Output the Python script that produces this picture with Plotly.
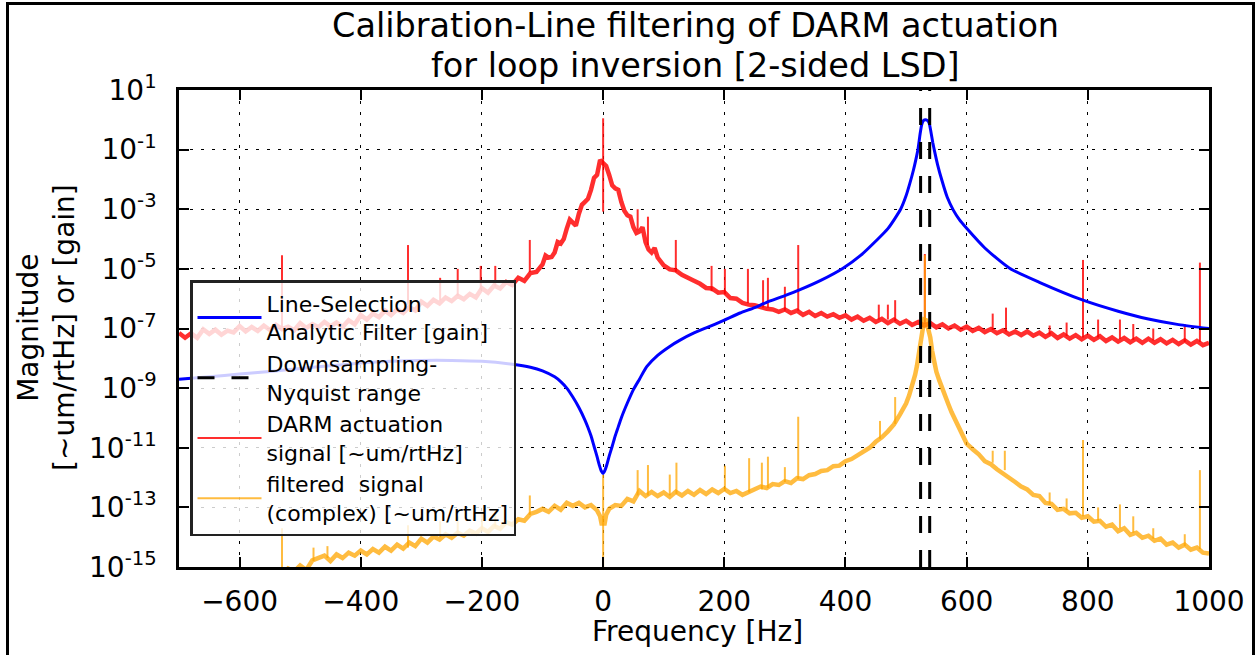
import plotly.graph_objects as go

# ---------------- data ----------------
# frequency grid of the sampled spectra [Hz]
FREQ_GRID = list(range(-700, 1001, 10))

# DARM actuation signal, log10 magnitude on FREQ_GRID
RED_LOG = [
    -7.15, -7.31, -7.16, -7.31, -7.03, -7.18, -7.04, -7.21, -7.07, -7.13,   # -700..-610
    -6.92, -7.10, -6.95, -7.08, -6.90, -7.05, -6.88, -7.02, -6.94, -7.06,   # -600..-510
    -6.82, -6.98, -6.85, -6.96, -6.78, -6.93, -6.80, -6.95, -6.72, -6.86,   # -500..-410
    -6.55, -6.70, -6.50, -6.62, -6.40, -6.55, -6.36, -6.48, -6.28, -6.40,   # -400..-310
    -6.10, -6.24, -6.04, -6.16, -5.96, -6.08, -5.90, -6.02, -5.84, -5.96,   # -300..-210
    -5.65, -5.80, -5.56, -5.66, -5.44, -5.54, -5.30, -5.40, -5.14, -5.10,   # -200..-110
    -4.85, -4.62, -4.45, -4.15, -3.65, -3.45, -3.15, -2.75, -2.35, -1.85,   # -100..-10
    -1.45, -1.85, -2.30, -2.75, -3.20, -3.60, -3.75, -4.10, -4.45, -4.62,   # 0..90
    -4.88, -5.02, -5.05, -5.20, -5.28, -5.40, -5.50, -5.64, -5.66, -5.80,   # 100..190
    -5.78, -5.98, -6.00, -6.14, -6.20, -6.22, -6.28, -6.34, -6.36, -6.44,   # 200..290
    -6.36, -6.48, -6.40, -6.54, -6.44, -6.58, -6.48, -6.60, -6.52, -6.64,   # 300..390
    -6.56, -6.70, -6.60, -6.74, -6.64, -6.78, -6.68, -6.82, -6.70, -6.84,   # 400..490
    -6.74, -6.88, -6.78, -6.90, -6.82, -6.96, -6.86, -7.00, -6.90, -7.04,   # 500..590
    -6.94, -7.08, -6.98, -7.12, -7.02, -7.16, -7.06, -7.20, -7.10, -7.22,   # 600..690
    -7.10, -7.24, -7.14, -7.28, -7.16, -7.32, -7.20, -7.34, -7.22, -7.36,   # 700..790
    -7.24, -7.38, -7.26, -7.42, -7.30, -7.44, -7.32, -7.46, -7.34, -7.48,   # 800..890
    -7.34, -7.48, -7.36, -7.50, -7.38, -7.52, -7.40, -7.54, -7.42, -7.56,   # 900..990
    -7.48,                                                                  # 1000
]
# extra readings around the 0 Hz peak (freq, log10)
RED_DETAIL = [
    (-95, -4.55), (-85, -4.60), (-75, -4.10), (-65, -4.00), (-55, -3.35),
    (-45, -3.55), (-35, -2.85), (-25, -2.65), (-15, -1.95), (-5, -1.35),
    (5, -1.55), (15, -2.20), (25, -2.35), (35, -3.05), (45, -3.25),
    (55, -3.80), (65, -3.60), (75, -4.35), (85, -4.30), (95, -4.75),
]
# narrow lines (freq, base log10, top log10)
RED_SPIKES = [
    (-530, -6.95, -4.54), (-322, -6.20, -4.20), (-269, -6.05, -5.30),
    (-240, -5.90, -5.00), (-202, -5.70, -4.90), (-178, -5.60, -4.90),
    (-121, -5.10, -4.03), (0, -3.08, 0.05), (57, -3.70, -3.00),
    (74, -4.20, -3.25), (120, -5.10, -4.03), (179, -5.75, -4.90),
    (201, -5.85, -5.00), (239, -6.15, -5.00), (264, -6.30, -5.38),
    (272, -6.30, -5.30), (300, -6.40, -5.60), (322, -6.40, -4.20),
    (455, -6.70, -6.20), (470, -6.70, -6.20), (482, -6.75, -6.05),
    (531, -6.85, -4.50), (643, -7.05, -6.50), (665, -7.10, -6.30),
    (737, -7.20, -6.90), (765, -7.25, -6.80), (792, -7.30, -4.70),
    (817, -7.30, -6.70), (853, -7.35, -6.70), (875, -7.38, -6.85),
    (908, -7.40, -7.00), (960, -7.45, -6.85), (985, -7.45, -4.79),
]

# filtered signal (complex), log10 magnitude on FREQ_GRID
ORANGE_LOG = [
    -15.65, -15.80, -15.62, -15.75, -15.55, -15.70, -15.50, -15.62, -15.45, -15.58,  # -700
    -15.30, -15.45, -15.28, -15.40, -15.20, -15.32, -15.12, -15.25, -15.05, -15.15,  # -600
    -14.95, -15.10, -14.78, -14.70, -14.62, -14.80, -14.58, -14.70, -14.52, -14.62,  # -500
    -14.45, -14.58, -14.40, -14.52, -14.32, -14.45, -14.25, -14.38, -14.18, -14.30,  # -400
    -14.05, -14.18, -13.98, -14.08, -13.90, -14.02, -13.85, -13.95, -13.78, -13.88,  # -300
    -13.70, -13.82, -13.62, -13.72, -13.50, -13.58, -13.40, -13.45, -13.22, -13.15,  # -200
    -13.05, -13.15, -12.95, -13.08, -12.85, -12.95, -12.85, -13.00, -12.92, -13.10,  # -100
    -13.30, -13.05, -12.92, -12.95, -12.72, -12.80, -12.45, -12.62, -12.48, -12.62,  # 0
    -12.50, -12.65, -12.48, -12.60, -12.45, -12.58, -12.42, -12.55, -12.40, -12.52,  # 100
    -12.38, -12.52, -12.45, -12.58, -12.50, -12.42, -12.30, -12.35, -12.22, -12.25,  # 200
    -12.12, -12.18, -12.02, -12.05, -11.92, -11.88, -11.78, -11.75, -11.62, -11.60,  # 300
    -11.45, -11.38, -11.25, -11.15, -11.00, -10.80, -10.65, -10.45, -10.22, -9.88,   # 400
    -9.52, -8.95, -8.00, -6.70, -7.30, -8.45, -9.05, -9.55, -10.00, -10.45,          # 500
    -10.86, -11.05, -11.22, -11.45, -11.55, -11.72, -11.85, -11.98, -12.15, -12.30,  # 600
    -12.40, -12.58, -12.62, -12.85, -12.88, -13.08, -13.05, -13.20, -13.18, -13.35,  # 700
    -13.30, -13.48, -13.45, -13.65, -13.58, -13.80, -13.70, -13.92, -13.85, -14.02,  # 800
    -13.95, -14.12, -14.05, -14.25, -14.18, -14.35, -14.25, -14.42, -14.35, -14.52,  # 900
    -14.55,                                                                          # 1000
]
ORANGE_DETAIL = [
    (-5, -13.30), (-2, -13.60), (2, -13.60), (5, -13.25),
    (495, -9.70), (505, -9.25), (515, -8.55), (518, -8.25), (522, -7.70),
    (525, -7.20), (527, -6.95), (529, -6.75), (533, -6.72), (535, -6.85),
    (537, -7.00), (543, -7.75), (546, -8.10), (555, -8.75), (565, -9.30),
    (575, -9.80), (585, -10.20), (595, -10.65),
]
ORANGE_SPIKES = [
    (-530, -15.20, -13.70), (-478, -14.80, -14.35), (-455, -14.70, -14.30),
    (-322, -14.35, -13.60), (-269, -14.00, -13.45), (-240, -13.95, -13.30),
    (-200, -13.75, -13.20), (-178, -13.65, -13.10), (-121, -13.25, -12.60),
    (0, -16.00, -11.90), (57, -12.60, -11.75), (74, -12.60, -11.58),
    (110, -12.60, -11.90), (121, -12.55, -11.50), (201, -12.45, -11.60),
    (241, -12.50, -11.35), (262, -12.40, -11.50), (272, -12.35, -11.30),
    (300, -12.15, -11.65), (322, -12.05, -9.96), (457, -10.70, -10.10),
    (482, -10.20, -9.30), (531, -6.70, -4.54), (643, -11.50, -11.10),
    (663, -11.75, -11.10), (737, -12.90, -12.50), (765, -13.10, -12.70),
    (792, -13.30, -10.74), (817, -13.45, -13.00), (853, -13.70, -12.90),
    (875, -13.85, -13.30), (908, -14.05, -13.70), (960, -14.30, -13.90),
    (985, -14.40, -11.75),
]

# Line-selection analytic filter gain (freq [Hz], log10 gain)
BLUE_FREQ = [-700, -650, -600, -550, -500, -450, -400, -350, -300, -250, -200,
             -150, -120, -100, -80, -70, -60, -50, -40, -30, -25, -20, -15,
             -10, -6, -3, 0, 3, 6, 10, 15, 20, 25, 30, 40, 50, 60, 72, 90,
             110, 127, 150, 170, 200, 226, 250, 270, 300, 325, 360, 396, 425,
             451, 470, 491, 500, 506, 512, 516, 520, 523, 526, 529, 532, 535,
             538, 541, 544, 547, 552, 559, 568, 578, 588, 600, 630, 671, 720,
             792, 850, 900, 950, 1000]
BLUE_LOG = [-8.70, -8.62, -8.53, -8.44, -8.34, -8.25, -8.16, -8.10, -8.07, -8.07, -8.10,
            -8.20, -8.30, -8.42, -8.62, -8.78, -9.00, -9.30, -9.65, -10.07, -10.32, -10.60, -10.95,
            -11.30, -11.60, -11.78, -11.86, -11.76, -11.58, -11.28, -10.95, -10.60, -10.30, -10.00, -9.50, -9.05, -8.70, -8.28, -7.90,
            -7.60, -7.39, -7.15, -6.98, -6.72, -6.48, -6.30, -6.12, -5.90, -5.70, -5.38, -4.98, -4.55,
            -4.05, -3.65, -3.00, -2.55, -2.15, -1.70, -1.35, -0.95, -0.50, -0.15, -0.02, 0.00, -0.02,
            -0.10, -0.40, -0.75, -1.05, -1.50, -2.02, -2.60, -3.03, -3.35, -3.64, -4.30, -4.98, -5.45,
            -6.05, -6.42, -6.68, -6.87, -7.00]

# Downsampling-Nyquist range edges [Hz]
NYQUIST_EDGES = [524, 539]

X_TICKS = [-600, -400, -200, 0, 200, 400, 600, 800, 1000]
Y_TICK_EXP = [1, -1, -3, -5, -7, -9, -11, -13, -15]

TITLE_LINES = ["Calibration-Line filtering of DARM actuation",
               "for loop inversion [2-sided LSD]"]


def build_band(freqs, logs, detail):
    pts = sorted(list(zip(freqs, logs)) + list(detail), key=lambda p: p[0])
    return [p[0] for p in pts], [10 ** p[1] for p in pts]


def build_spikes(spikes):
    xs, ys = [], []
    for f, base, top in spikes:
        xs += [f, f, None]
        ys += [10 ** base, 10 ** top, None]
    return xs, ys


assert len(RED_LOG) == len(FREQ_GRID) and len(ORANGE_LOG) == len(FREQ_GRID)
assert len(BLUE_FREQ) == len(BLUE_LOG)

red_x, red_y = build_band(FREQ_GRID, RED_LOG, RED_DETAIL)
red_sx, red_sy = build_spikes(RED_SPIKES)
org_x, org_y = build_band(FREQ_GRID, ORANGE_LOG, ORANGE_DETAIL)
org_sx, org_sy = build_spikes(ORANGE_SPIKES)
blue_y = [10 ** v for v in BLUE_LOG]

ymin, ymax = 10.0 ** Y_TICK_EXP[-1], 10.0 ** Y_TICK_EXP[0]
nyq_x, nyq_y = [], []
for e in NYQUIST_EDGES:
    nyq_x += [e, e, None]
    nyq_y += [ymin, ymax, None]

FONT = "DejaVu Sans"
RED = "rgba(255,0,0,0.82)"
ORANGE = "rgba(255,165,0,0.75)"

fig = go.Figure()
fig.add_trace(go.Scatter(x=red_x, y=red_y, mode="lines", showlegend=False,
                         line=dict(color=RED, width=4.5),
                         legendgroup="red", hoverinfo="skip"))
fig.add_trace(go.Scatter(x=red_sx, y=red_sy, mode="lines",
                         name="DARM actuation<br>signal [~um/rtHz]",
                         line=dict(color=RED, width=2), legendgroup="red",
                         legendrank=3))
fig.add_trace(go.Scatter(x=org_x, y=org_y, mode="lines", showlegend=False,
                         line=dict(color=ORANGE, width=4.5),
                         legendgroup="orange", hoverinfo="skip"))
fig.add_trace(go.Scatter(x=org_sx, y=org_sy, mode="lines",
                         name="filtered\u00a0 signal<br>(complex) [~um/rtHz]",
                         line=dict(color=ORANGE, width=2), legendgroup="orange",
                         legendrank=4))
fig.add_trace(go.Scatter(x=BLUE_FREQ, y=blue_y, mode="lines",
                         name="Line-Selection<br>Analytic Filter [gain]",
                         line=dict(color="#0000ff", width=3, shape="spline", smoothing=0.6),
                         legendrank=1))
fig.add_trace(go.Scatter(x=nyq_x, y=nyq_y, mode="lines",
                         name="Downsampling-<br>Nyquist range",
                         line=dict(color="black", width=3, dash="17px,17px"),
                         legendrank=2))

axis_common = dict(
    showline=True, linewidth=2.5, linecolor="black", mirror="ticks",
    ticks="inside", ticklen=10, tickwidth=2, tickcolor="black",
    showgrid=True, gridcolor="black", gridwidth=1.3, griddash="3px,8px",
    zeroline=False, tickfont=dict(family=FONT, size=28, color="black"),
)

fig.update_xaxes(range=[-700, 1000], tickvals=X_TICKS,
                 ticklabelstandoff=8, **axis_common)
fig.update_yaxes(type="log", range=[Y_TICK_EXP[-1], Y_TICK_EXP[0]],
                 tickvals=[10.0 ** e for e in Y_TICK_EXP],
                 ticktext=["10<sup>%d</sup>" % e for e in Y_TICK_EXP],
                 ticklabelstandoff=14, **axis_common)

title_annots = [
    dict(text=t, xref="paper", yref="paper", x=(695 - 179) / 1030,
         y=(567 - py) / 477, xanchor="center", yanchor="middle", showarrow=False,
         font=dict(family=FONT, size=33.5, color="black"))
    for t, py in zip(TITLE_LINES, [25.5, 65.5])
]

fig.update_layout(
    width=1256, height=655, autosize=False,
    margin=dict(l=179, r=47, t=90, b=88),
    paper_bgcolor="white", plot_bgcolor="white",
    font=dict(family=FONT, color="black"),
    legend=dict(x=11 / 1030, y=(567 - 280) / 477, xanchor="left", yanchor="top",
                bgcolor="rgba(255,255,255,0.8)", bordercolor="#222222", borderwidth=2.5,
                font=dict(family=FONT, size=22, color="black"),
                itemwidth=64, tracegroupgap=0),
    showlegend=True,
    annotations=title_annots + [
        dict(text="Magnitude<br>[~um/rtHz] or [gain]", textangle=-90,
             xref="paper", yref="paper", x=(46 - 179) / 1030, y=(567 - 328) / 477,
             xanchor="center", yanchor="middle", showarrow=False,
             font=dict(family=FONT, size=28, color="black")),
        dict(text="Frequency [Hz]", xref="paper", yref="paper",
             x=(697 - 179) / 1030, y=(567 - 631) / 477,
             xanchor="center", yanchor="middle", showarrow=False,
             font=dict(family=FONT, size=28, color="black")),
    ],
    shapes=[dict(type="rect", xref="paper", yref="paper",
                 x0=(7.5 - 179) / 1030, x1=(1253.5 - 179) / 1030,
                 y0=(567 - 720) / 477, y1=(567 - 3.5) / 477,
                 line=dict(color="black", width=3), fillcolor="rgba(0,0,0,0)",
                 layer="above")],
)

fig.write_html("out.html")
